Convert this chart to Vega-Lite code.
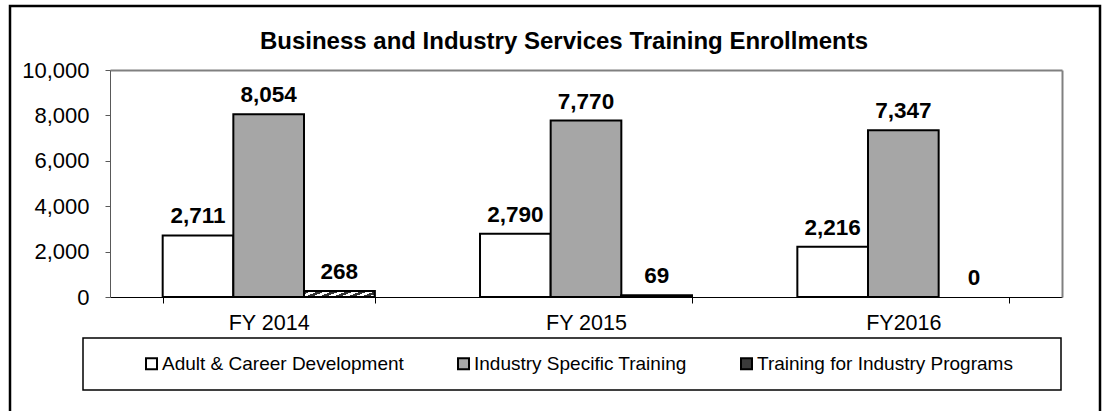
{
  "$schema": "https://vega.github.io/schema/vega-lite/v6.json",
  "width": 1090,
  "height": 410,
  "autosize": {"type": "none"},
  "padding": {"left": 10, "top": 6, "right": 10, "bottom": -5},
  "background": "white",
  "config": {
    "font": "Liberation Sans",
    "view": {"stroke": "black", "strokeWidth": 2.5},
    "axis": {"grid": false},
    "legend": {"strokeWidth": 1.5}
  },
  "title": {
    "text": "Business and Industry Services Training Enrollments",
    "fontSize": 24,
    "fontWeight": "bold",
    "color": "black",
    "anchor": "middle",
    "frame": "group",
    "offset": -48,
    "dx": 9
  },
  "data": {
    "values": [
      {"year": "FY 2014", "series": "Adult & Career Development", "value": 2711},
      {"year": "FY 2014", "series": "Industry Specific Training", "value": 8054},
      {"year": "FY 2014", "series": "Training for Industry Programs", "value": 268},
      {"year": "FY 2015", "series": "Adult & Career Development", "value": 2790},
      {"year": "FY 2015", "series": "Industry Specific Training", "value": 7770},
      {"year": "FY 2015", "series": "Training for Industry Programs", "value": 69},
      {"year": "FY2016", "series": "Adult & Career Development", "value": 2216},
      {"year": "FY2016", "series": "Industry Specific Training", "value": 7347},
      {"year": "FY2016", "series": "Training for Industry Programs", "value": 0}
    ]
  },
  "layer": [
    {
      "transform": [{"filter": "datum.value > 0"}],
      "mark": {"type": "bar", "stroke": "black", "strokeWidth": 2},
      "encoding": {
        "x": {
          "field": "year", "type": "nominal", "sort": null,
          "scale": {"range": [100, 1052], "paddingInner": 0.332, "paddingOuter": 0.166},
          "axis": {
            "orient": "bottom", "offset": -119, "title": null,
            "domainColor": "black", "domainWidth": 1,
            "tickColor": "black", "tickSize": 6, "tickBand": "extent",
            "labelFontSize": 21.5, "labelColor": "black", "labelPadding": 9, "labelAngle": 0
          }
        },
        "xOffset": {
          "field": "series", "type": "nominal",
          "sort": ["Adult & Career Development", "Industry Specific Training", "Training for Industry Programs"],
          "scale": {"paddingInner": 0, "paddingOuter": 0}
        },
        "y": {
          "field": "value", "type": "quantitative",
          "scale": {"domain": [0, 10000], "range": [291, 64], "nice": false, "zero": true},
          "axis": {
            "orient": "left", "offset": -100, "title": null,
            "values": [0, 2000, 4000, 6000, 8000, 10000], "format": ",.0f",
            "domainColor": "#595959", "domainWidth": 1,
            "tickColor": "#595959", "tickSize": 5,
            "labelFontSize": 22, "labelColor": "black", "labelPadding": 16
          }
        },
        "fill": {
          "field": "series", "type": "nominal",
          "scale": {
            "domain": ["Adult & Career Development", "Industry Specific Training", "Training for Industry Programs"],
            "range": ["white", "#a6a6a6", "#3a3a3a"]
          },
          "legend": {
            "orient": "none", "legendX": 73, "legendY": 332,
            "direction": "horizontal",
            "title": " ", "titleOrient": "left", "titleFontSize": 1, "titlePadding": 43,
            "strokeColor": "black", "padding": 16,
            "columnPadding": 50,
            "symbolType": "square", "symbolSize": 121,
            "symbolStrokeColor": "black", "symbolStrokeWidth": 2,
            "labelFontSize": 19, "labelColor": "black", "labelOffset": 1, "labelLimit": 500,
            "labelExpr": "indexof(datum.label, 'Programs') >= 0 ? datum.label + '\u00a0\u00a0\u00a0\u00a0\u00a0\u00a0\u200b' : datum.label"
          }
        }
      }
    },
    {
      "transform": [{"filter": "datum.series == 'Training for Industry Programs' && datum.value > 0"}],
      "mark": {
        "type": "bar", "stroke": "black", "strokeWidth": 2,
        "fill": {
          "gradient": "linear", "x1": 0, "y1": 1, "x2": 1, "y2": 0,
          "stops": [
            {"offset": 0, "color": "white"}, {"offset": 0.05, "color": "white"},
            {"offset": 0.05, "color": "#333333"}, {"offset": 0.1, "color": "#333333"},
            {"offset": 0.1, "color": "white"}, {"offset": 0.15, "color": "white"},
            {"offset": 0.15, "color": "#333333"}, {"offset": 0.2, "color": "#333333"},
            {"offset": 0.2, "color": "white"}, {"offset": 0.25, "color": "white"},
            {"offset": 0.25, "color": "#333333"}, {"offset": 0.3, "color": "#333333"},
            {"offset": 0.3, "color": "white"}, {"offset": 0.35, "color": "white"},
            {"offset": 0.35, "color": "#333333"}, {"offset": 0.4, "color": "#333333"},
            {"offset": 0.4, "color": "white"}, {"offset": 0.45, "color": "white"},
            {"offset": 0.45, "color": "#333333"}, {"offset": 0.5, "color": "#333333"},
            {"offset": 0.5, "color": "white"}, {"offset": 0.55, "color": "white"},
            {"offset": 0.55, "color": "#333333"}, {"offset": 0.6, "color": "#333333"},
            {"offset": 0.6, "color": "white"}, {"offset": 0.65, "color": "white"},
            {"offset": 0.65, "color": "#333333"}, {"offset": 0.7, "color": "#333333"},
            {"offset": 0.7, "color": "white"}, {"offset": 0.75, "color": "white"},
            {"offset": 0.75, "color": "#333333"}, {"offset": 0.8, "color": "#333333"},
            {"offset": 0.8, "color": "white"}, {"offset": 0.85, "color": "white"},
            {"offset": 0.85, "color": "#333333"}, {"offset": 0.9, "color": "#333333"},
            {"offset": 0.9, "color": "white"}, {"offset": 0.95, "color": "white"},
            {"offset": 0.95, "color": "#333333"}, {"offset": 1, "color": "#333333"}
          ]
        }
      },
      "encoding": {
        "x": {
          "field": "year", "type": "nominal", "sort": null,
          "scale": {"range": [100, 1052], "paddingInner": 0.332, "paddingOuter": 0.166},
          "axis": null
        },
        "xOffset": {
          "field": "series", "type": "nominal",
          "sort": ["Adult & Career Development", "Industry Specific Training", "Training for Industry Programs"]
        },
        "y": {
          "field": "value", "type": "quantitative",
          "scale": {"domain": [0, 10000], "range": [291, 64], "nice": false, "zero": true},
          "axis": null
        }
      }
    },
    {
      "mark": {"type": "text", "fontSize": 22.5, "fontWeight": "bold", "color": "black", "baseline": "alphabetic", "align": "center", "dy": -12},
      "encoding": {
        "x": {
          "field": "year", "type": "nominal", "sort": null,
          "scale": {"range": [100, 1052], "paddingInner": 0.332, "paddingOuter": 0.166},
          "axis": {
            "orient": "top", "offset": -64, "title": null,
            "domainColor": "#808080", "domainWidth": 2,
            "ticks": false, "labels": false
          }
        },
        "xOffset": {
          "field": "series", "type": "nominal",
          "sort": ["Adult & Career Development", "Industry Specific Training", "Training for Industry Programs"]
        },
        "y": {
          "field": "value", "type": "quantitative",
          "scale": {"domain": [0, 10000], "range": [291, 64], "nice": false, "zero": true},
          "axis": {
            "orient": "right", "offset": -38, "title": null,
            "domainColor": "#808080", "domainWidth": 2,
            "ticks": false, "labels": false
          }
        },
        "text": {"field": "value", "type": "quantitative", "format": ","}
      }
    }
  ],
  "resolve": {"axis": {"x": "independent", "y": "independent"}}
}
